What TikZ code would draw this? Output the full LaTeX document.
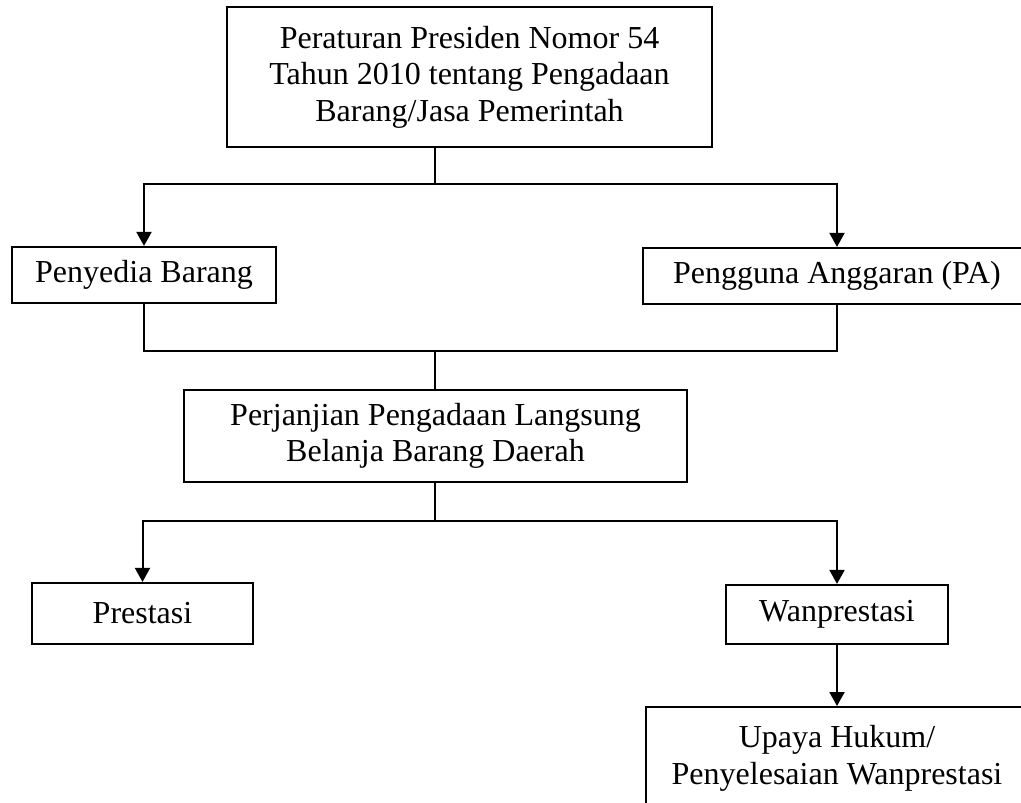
\documentclass[tikz,border=0pt]{standalone}
\usepackage{fontspec}
\setmainfont{Liberation Serif}
\usetikzlibrary{arrows.meta}
\begin{document}
\begin{tikzpicture}[x=0.5pt,y=-0.5pt,
  box/.style={draw,line width=1.1pt,inner sep=0pt,align=center,
    font=\fontsize{16}{18.3}\selectfont},
  conn/.style={line width=1pt},
  arr/.style={line width=1pt,-{Triangle[width=7.5pt,length=7pt]}}]
\path[use as bounding box] (0,0) rectangle (1021,802);
\clip (0,0) rectangle (1021,802);

\node[box,minimum width=242.5pt,minimum height=70pt] (top) at (469.5,77)
  {Peraturan Presiden Nomor 54\\Tahun 2010 tentang Pengadaan\\Barang/Jasa Pemerintah};
\node[box,minimum width=132pt,minimum height=28pt] (pb) at (144,275) {Penyedia Barang};
\node[box,minimum width=194pt,minimum height=28pt] (pa) at (837,276) {Pengguna Anggaran (PA)};
\node[box,minimum width=251.5pt,minimum height=46pt] (pj) at (435.5,436)
  {Perjanjian Pengadaan Langsung\\Belanja Barang Daerah};
\node[box,minimum width=110.5pt,minimum height=30.5pt] (pr) at (142.5,613.5) {Prestasi};
\node[box,minimum width=111pt,minimum height=29.5pt] (wp) at (837,614.5) {Wanprestasi};
\node[box,minimum width=191pt,minimum height=51pt,anchor=north] (up) at (837,706)
  {Upaya Hukum/\\Penyelesaian Wanprestasi};

\coordinate (j1) at (435,184);
\coordinate (j2) at (435,351);
\coordinate (j3) at (435,521);

\draw[conn] (top.south -| j1) -- (j1);
\draw[arr] (j1) -| (pb.north);
\draw[arr] (j1) -| (pa.north);

\draw[conn] (pb.south) |- (j2) -| (pa.south);
\draw[conn] (j2) -- (pj.north -| j2);

\draw[conn] (pj.south -| j3) -- (j3);
\draw[arr] (j3) -| (pr.north);
\draw[arr] (j3) -| (wp.north);

\draw[arr] (wp.south) -- (up.north);
\end{tikzpicture}
\end{document}
